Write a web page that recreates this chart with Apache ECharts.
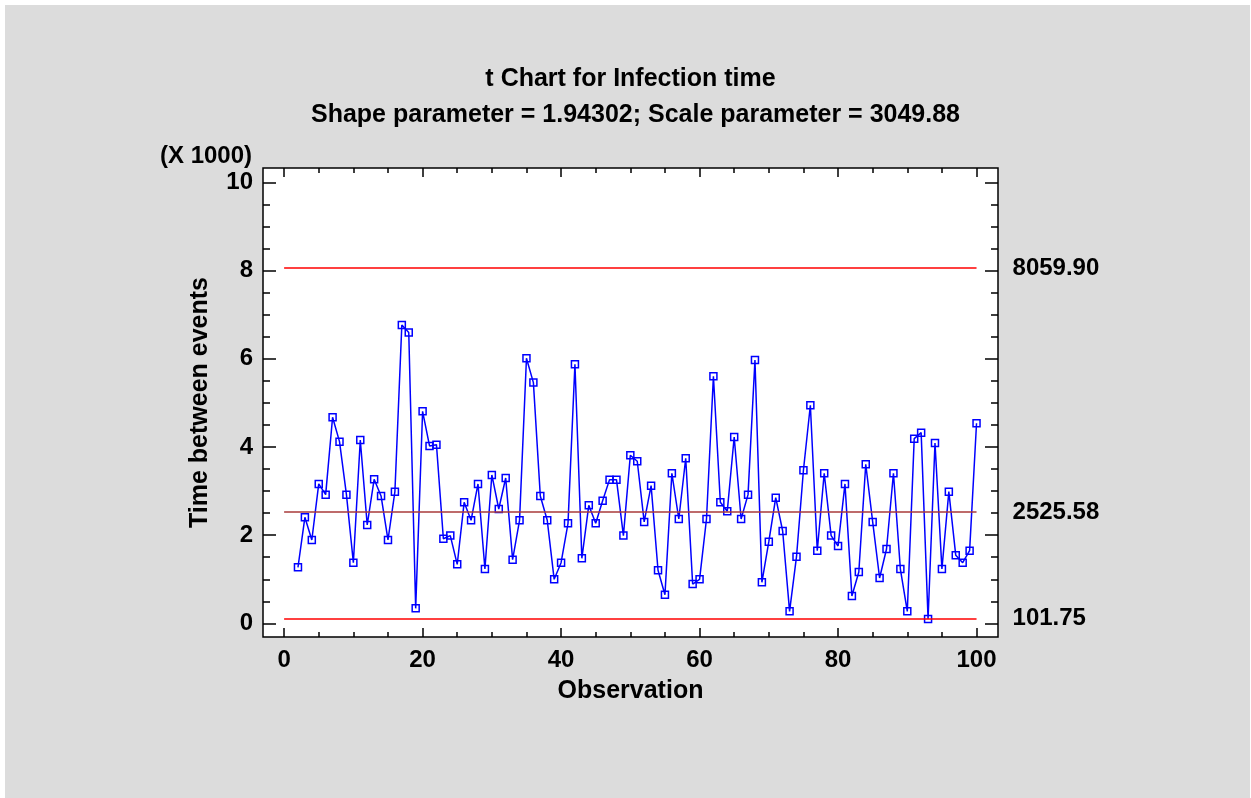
<!DOCTYPE html>
<html>
<head>
<meta charset="utf-8">
<script src="https://cdn.jsdelivr.net/npm/echarts@6/dist/echarts.min.js"></script>
<style>
  html, body { margin: 0; padding: 0; background: #ffffff; }
  #chart { position: absolute; left: 5px; top: 5px; width: 1245px; height: 793px; }
</style>
</head>
<body>
<div id="chart"></div>
<script>
// ---- data ----
const OBS = [2,3,4,5,6,7,8,9,10,11,12,13,14,15,16,17,18,19,20,21,22,23,24,25,26,27,28,29,30,31,32,33,34,35,36,37,38,39,40,41,42,43,44,45,46,47,48,49,50,51,52,53,54,55,56,57,58,59,60,61,62,63,64,65,66,67,68,69,70,71,72,73,74,75,76,77,78,79,80,81,82,83,84,85,86,87,88,89,90,91,92,93,94,95,96,97,98,99,100];
const TIME = [1271,2406,1891,3162,2920,4675,4122,2920,1376,4160,2231,3268,2890,1891,2987,6770,6600,340,4810,4024,4054,1920,1990,1339,2746,2338,3162,1232,3366,2594,3298,1444,2338,6014,5461,2890,2338,999,1376,2270,5878,1475,2678,2270,2783,3260,3260,1990,3813,3677,2300,3124,1203,650,3404,2367,3745,892,999,2367,5606,2746,2542,4228,2367,2920,5976,930,1852,2851,2095,272,1512,3472,4948,1648,3404,1990,1754,3162,620,1164,3609,2300,1028,1686,3404,1232,272,4190,4326,98,4092,1232,2987,1543,1376,1648,4539];
const UCL = 8059.90;
const CL = 2525.58;
const LCL = 101.75;
const Y_MAJOR = [0,2000,4000,6000,8000,10000];
const Y_MINOR = [500,1000,1500,2500,3000,3500,4500,5000,5500,6500,7000,7500,8500,9000,9500];
const X_MAJOR = [0,20,40,60,80,100];
const X_MINOR = [5,10,15,25,30,35,45,50,55,65,70,75,85,90,95];
const TITLE = 't Chart for Infection time';
const SUBTITLE = 'Shape parameter = 1.94302; Scale parameter = 3049.88';
const X_NAME = 'Observation';
const Y_NAME = 'Time between events';
const Y_SCALE_NOTE = '(X 1000)';

// ---- chart ----
const FONT = '"Liberation Sans", Arial, sans-serif';
const X_MIN = -3.05, X_MAX = 103.1;
const Y_MIN = -310, Y_MAX = 10330;

function yAx(pos, vals, len, labels) {
  return {
    type: 'value', position: pos, offset: 0, min: Y_MIN, max: Y_MAX,
    axisLine: { show: false, onZero: false },
    splitLine: { show: false },
    axisTick: { show: true, inside: true, length: len, customValues: vals, lineStyle: { color: '#000', width: 1.5 } },
    axisLabel: labels ? {
      show: true, customValues: vals, margin: 10,
      formatter: v => String(Math.round(v / 1000)),
      color: '#000', fontFamily: FONT, fontWeight: 'bold', fontSize: 24
    } : { show: false },
    name: labels ? Y_NAME : '',
    nameLocation: 'middle', nameGap: 50, nameRotate: 90,
    nameTextStyle: { color: '#000', fontFamily: FONT, fontWeight: 'bold', fontSize: 25 }
  };
}
function xAx(pos, vals, len, labels) {
  return {
    type: 'value', position: pos, offset: 0, min: X_MIN, max: X_MAX,
    axisLine: { show: false, onZero: false },
    splitLine: { show: false },
    axisTick: { show: true, inside: true, length: len, customValues: vals, lineStyle: { color: '#000', width: 1.5 } },
    axisLabel: labels ? {
      show: true, customValues: vals, margin: 11,
      color: '#000', fontFamily: FONT, fontWeight: 'bold', fontSize: 24
    } : { show: false },
    name: labels ? X_NAME : '',
    nameLocation: 'middle', nameGap: 42,
    nameTextStyle: { color: '#000', fontFamily: FONT, fontWeight: 'bold', fontSize: 25 }
  };
}

const chart = echarts.init(document.getElementById('chart'), null, { renderer: 'canvas' });
const limitLabel = { show: true, position: 'end', distance: 36, formatter: p => p.value.toFixed(2),
  color: '#000', fontFamily: FONT, fontWeight: 'bold', fontSize: 24 };

chart.setOption({
  animation: false,
  backgroundColor: '#dcdcdc',
  graphic: [
    { type: 'text', x: 625.5, y: 74, style: { text: TITLE, fill: '#000', font: 'bold 25px ' + FONT, textAlign: 'center', textVerticalAlign: 'middle' } },
    { type: 'text', x: 630.5, y: 110, style: { text: SUBTITLE, fill: '#000', font: 'bold 25px ' + FONT, textAlign: 'center', textVerticalAlign: 'middle' } },
    { type: 'text', x: 155, y: 151, style: { text: Y_SCALE_NOTE, fill: '#000', font: 'bold 24px ' + FONT, textAlign: 'left', textVerticalAlign: 'middle' } }
  ],
  grid: {
    left: 258, top: 163, width: 735, height: 469,
    show: true, backgroundColor: '#ffffff', borderColor: '#000', borderWidth: 1.5,
    outerBoundsMode: 'none'
  },
  xAxis: [
    xAx('bottom', X_MAJOR, 9, true),
    xAx('bottom', X_MINOR, 5, false),
    xAx('top', X_MAJOR, 9, false),
    xAx('top', X_MINOR, 5, false)
  ],
  yAxis: [
    yAx('left', Y_MAJOR, 13, true),
    yAx('left', Y_MINOR, 7, false),
    yAx('right', Y_MAJOR, 13, false),
    yAx('right', Y_MINOR, 7, false)
  ],
  series: [{
    type: 'line',
    xAxisIndex: 0, yAxisIndex: 0,
    data: OBS.map((o, i) => [o, TIME[i]]),
    symbol: 'rect', symbolSize: 7, showSymbol: true,
    lineStyle: { color: '#0000ff', width: 1.5 },
    itemStyle: { color: 'rgba(255,255,255,0)', borderColor: '#0000ff', borderWidth: 1.5 },
    z: 3,
    markLine: {
      silent: true, symbol: ['none', 'none'],
      label: limitLabel,
      data: [
        [{ coord: [0, UCL], value: UCL, lineStyle: { color: '#ff0000', width: 1.5, type: 'solid' } }, { coord: [100, UCL] }],
        [{ coord: [0, CL], value: CL, lineStyle: { color: '#a83a3a', width: 1.5, type: 'solid' } }, { coord: [100, CL] }],
        [{ coord: [0, LCL], value: LCL, lineStyle: { color: '#ff0000', width: 1.5, type: 'solid' } }, { coord: [100, LCL] }]
      ]
    }
  }]
});
</script>
</body>
</html>
